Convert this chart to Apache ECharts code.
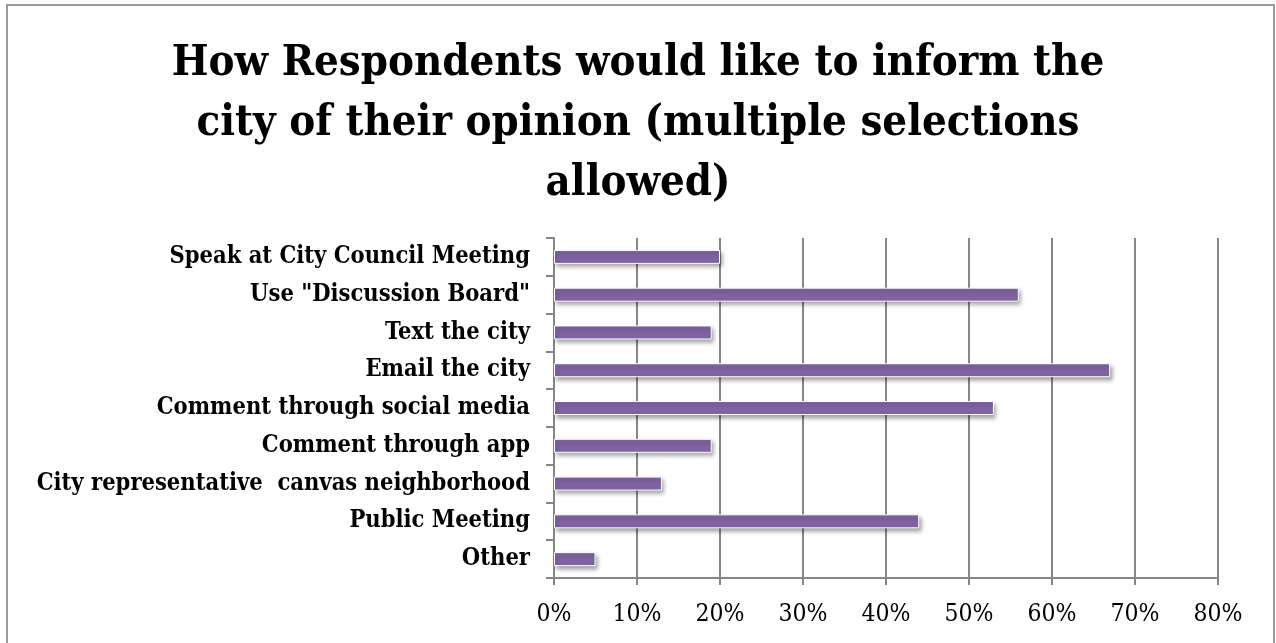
<!DOCTYPE html>
<html>
<head>
<meta charset="utf-8">
<script src="https://cdn.jsdelivr.net/npm/echarts@6/dist/echarts.min.js"></script>
<style>
  html, body { margin: 0; padding: 0; background: #ffffff; }
  #chart { width: 1276px; height: 643px; }
</style>
</head>
<body>
<div id="chart"></div>
<script>
// Survey answers, listed top to bottom as they appear on the chart
const categories = [
  'Speak at City Council Meeting',
  'Use "Discussion Board"',
  'Text the city',
  'Email the city',
  'Comment through social media',
  'Comment through app',
  'City representative  canvas neighborhood',
  'Public Meeting',
  'Other'
];
// Share of respondents choosing each option (percent)
const shares = [20, 56, 19, 67, 53, 19, 13, 44, 5];
// Percent axis range and step
const axisMax = 80;
const axisStep = 10;

const titleText = 'How Respondents would like to inform the\ncity of their opinion (multiple selections\nallowed)';
const serif = '"DejaVu Serif Condensed", "DejaVu Serif", serif';
const gray = '#868686';

const chart = echarts.init(document.getElementById('chart'), null, { renderer: 'canvas' });
chart.setOption({
  animation: false,
  backgroundColor: '#ffffff',
  title: {
    text: titleText,
    left: 'center',
    top: 29,
    textStyle: {
      fontFamily: serif,
      fontWeight: 'bold',
      fontSize: 43.3,
      lineHeight: 60,
      color: '#000000'
    }
  },
  graphic: [{
    type: 'rect',
    shape: { x: 7, y: 5, width: 1267, height: 660 },
    style: { fill: 'none', stroke: '#9a9a9a', lineWidth: 2 },
    silent: true
  }],
  grid: { left: 554, right: 58, top: 238, bottom: 65, containLabel: false },
  xAxis: {
    type: 'value',
    min: 0,
    max: axisMax,
    interval: axisStep,
    axisLine: { show: true, lineStyle: { color: gray, width: 2 } },
    axisTick: { show: true, length: 7, lineStyle: { color: gray, width: 2 } },
    splitLine: { show: true, lineStyle: { color: gray, width: 2 } },
    axisLabel: {
      formatter: v => v + '%',
      fontFamily: serif,
      fontSize: 24.5,
      color: '#000000',
      margin: 24
    }
  },
  yAxis: {
    type: 'category',
    data: categories,
    inverse: true,
    axisLine: { show: true, lineStyle: { color: gray, width: 2 } },
    axisTick: { show: true, length: 8, lineStyle: { color: gray, width: 2 } },
    splitLine: { show: false },
    axisLabel: {
      fontFamily: serif,
      fontWeight: 'bold',
      fontSize: 23.5,
      color: '#000000',
      margin: 24
    }
  },
  series: [{
    type: 'bar',
    data: shares,
    barWidth: 14,
    itemStyle: {
      color: '#8064A2',
      borderColor: '#ffffff',
      borderWidth: 1,
      shadowColor: 'rgba(0,0,0,0.35)',
      shadowBlur: 4,
      shadowOffsetX: 2,
      shadowOffsetY: 3
    }
  }]
});
</script>
</body>
</html>
